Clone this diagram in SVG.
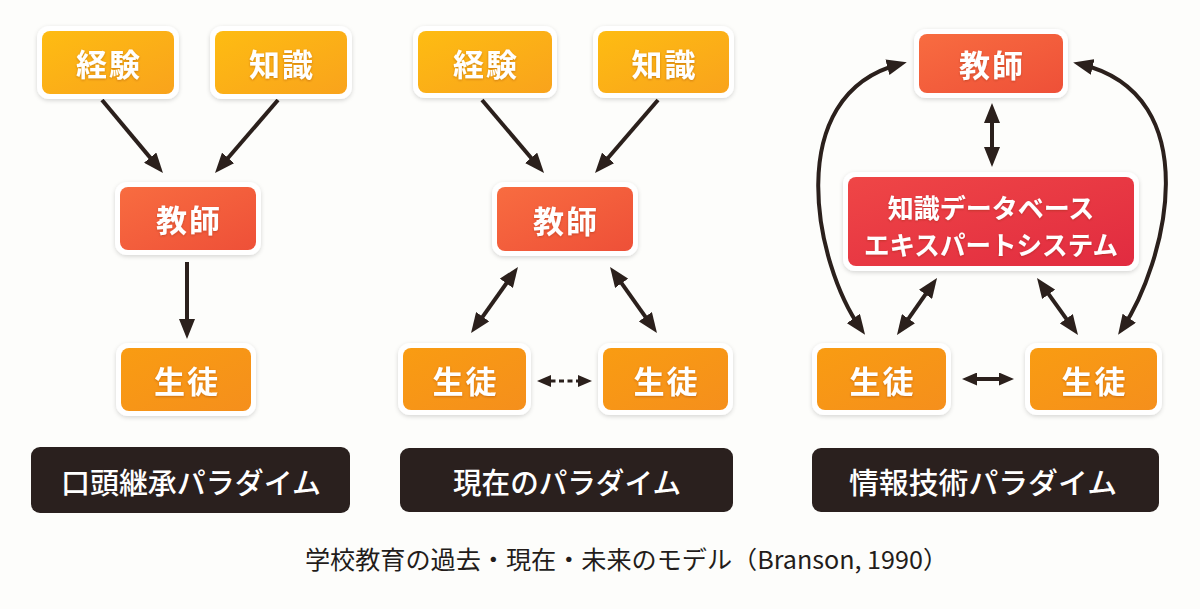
<svg xmlns="http://www.w3.org/2000/svg" width="1200" height="609" viewBox="0 0 1200 609">
<defs>
<linearGradient id="gY" x1="0" y1="0" x2="1" y2="1"><stop offset="0" stop-color="#FEBC12"/><stop offset="1" stop-color="#F9A31C"/></linearGradient>
<linearGradient id="gT" x1="0" y1="0" x2="1" y2="1"><stop offset="0" stop-color="#F86C40"/><stop offset="1" stop-color="#EE5038"/></linearGradient>
<linearGradient id="gS" x1="0" y1="0" x2="1" y2="1"><stop offset="0" stop-color="#F99C12"/><stop offset="1" stop-color="#F58F1C"/></linearGradient>
<linearGradient id="gK" x1="0" y1="0" x2="1" y2="1"><stop offset="0" stop-color="#EF4646"/><stop offset="1" stop-color="#E12B40"/></linearGradient>
<filter id="sh" x="-20%" y="-20%" width="140%" height="150%"><feDropShadow dx="0" dy="1.5" stdDeviation="2" flood-color="#000" flood-opacity="0.16"/></filter>
<filter id="ts" x="-10%" y="-20%" width="120%" height="150%"><feDropShadow dx="0" dy="1" stdDeviation="0.8" flood-color="#7a2a00" flood-opacity="0.35"/></filter>
<marker id="ah" markerUnits="userSpaceOnUse" markerWidth="20" markerHeight="16" viewBox="0 0 20 16" refX="13" refY="8" orient="auto-start-reverse"><path d="M0,0 L20,8 L0,16 z" fill="#2B201C"/></marker>
<marker id="ahm" markerUnits="userSpaceOnUse" markerWidth="15" markerHeight="13" viewBox="0 0 15 13" refX="9" refY="6.5" orient="auto-start-reverse"><path d="M0,0 L15,6.5 L0,13 z" fill="#2B201C"/></marker>
<marker id="ahs" markerUnits="userSpaceOnUse" markerWidth="14" markerHeight="12" viewBox="0 0 14 12" refX="9" refY="6" orient="auto-start-reverse"><path d="M0,0 L14,6 L0,12 z" fill="#2B201C"/></marker>
</defs>
<style>
.frame{fill:#FFFFFF;filter:url(#sh)}
.y{fill:url(#gY)}.t{fill:url(#gT)}.s{fill:url(#gS)}.k{fill:url(#gK)}
.nt{font-family:"Noto Sans CJK JP","Noto Sans",sans-serif;font-weight:700;font-size:31px;fill:#FFFFFF;text-anchor:middle;dominant-baseline:central;letter-spacing:2px;filter:url(#ts)}
.kt{font-family:"Noto Sans CJK JP","Noto Sans",sans-serif;font-weight:700;font-size:26px;fill:#FFFFFF;text-anchor:middle;dominant-baseline:central;filter:url(#ts)}
.lb{fill:#2A201E}
.lt{font-family:"Noto Sans CJK JP","Noto Sans",sans-serif;font-weight:500;font-size:29px;fill:#FFFFFF;text-anchor:middle;dominant-baseline:central}
.cap{font-family:"Noto Sans CJK JP","Noto Sans",sans-serif;font-weight:400;font-size:24.5px;fill:#231C1A;dominant-baseline:central}
.ar{fill:none;stroke:#2B201C;stroke-width:4}
.ar1{marker-end:url(#ah)}
.ar2{marker-start:url(#ah);marker-end:url(#ah)}
.arm{marker-start:url(#ahm);marker-end:url(#ahm)}
.dash{fill:none;stroke:#2B201C;stroke-width:3;stroke-dasharray:5 3.5;marker-start:url(#ahs);marker-end:url(#ahs)}
</style>
<rect width="1200" height="609" fill="#FDFDFB"/>

<g id="connectors">
<line class="ar ar1" x1="102" y1="100" x2="158.5" y2="167.6"/>
<line class="ar ar1" x1="278" y1="100" x2="219.6" y2="167.7"/>
<line class="ar ar1" x1="187" y1="262" x2="187" y2="332"/>
<line class="ar ar1" x1="482" y1="100" x2="539.5" y2="167.7"/>
<line class="ar ar1" x1="658" y1="100" x2="599.6" y2="167.7"/>
<line class="ar ar2" x1="513.9" y1="272.7" x2="475.1" y2="327.3"/>
<line class="ar ar2" x1="614.1" y1="272.7" x2="652.9" y2="327.3"/>
<line class="dash" x1="542" y1="381" x2="587" y2="381"/>
<line class="ar ar2" x1="992" y1="110" x2="992" y2="160"/>
<line class="ar arm" x1="968" y1="379" x2="1008" y2="379"/>
<line class="ar ar2" x1="933" y1="283.7" x2="901" y2="329.3"/>
<line class="ar ar2" x1="1041.1" y1="283.7" x2="1073.9" y2="329.3"/>
<path class="ar ar2" d="M900,64 C780,95 815,265 861,329"/>
<path class="ar ar2" d="M1080,64 C1210,95 1165,265 1122,329"/>
</g>

<g id="p1-keiken"><rect class="frame" x="37" y="26" width="142" height="73" rx="12"/><rect class="y" x="42" y="31" width="132" height="63" rx="8"/><text class="nt" x="109" y="62.5">経験</text></g>
<g id="p1-chishiki"><rect class="frame" x="210" y="26" width="142" height="73" rx="12"/><rect class="y" x="215" y="31" width="132" height="63" rx="8"/><text class="nt" x="282" y="62.5">知識</text></g>
<g id="p1-kyoushi"><rect class="frame" x="115" y="182" width="146" height="73" rx="12"/><rect class="t" x="120" y="187" width="136" height="63" rx="8"/><text class="nt" x="189" y="218.5">教師</text></g>
<g id="p1-seito"><rect class="frame" x="116" y="343" width="140" height="73" rx="12"/><rect class="s" x="121" y="348" width="130" height="63" rx="8"/><text class="nt" x="187" y="379.5">生徒</text></g>

<g id="p2-keiken"><rect class="frame" x="413" y="26" width="144" height="72" rx="12"/><rect class="y" x="418" y="31" width="134" height="62" rx="8"/><text class="nt" x="486" y="62">経験</text></g>
<g id="p2-chishiki"><rect class="frame" x="593" y="26" width="141" height="72" rx="12"/><rect class="y" x="598" y="31" width="131" height="62" rx="8"/><text class="nt" x="664.5" y="62">知識</text></g>
<g id="p2-kyoushi"><rect class="frame" x="492" y="182" width="146" height="74" rx="12"/><rect class="t" x="497" y="187" width="136" height="64" rx="8"/><text class="nt" x="566" y="219">教師</text></g>
<g id="p2-seito-l"><rect class="frame" x="398" y="343" width="133" height="72" rx="12"/><rect class="s" x="403" y="348" width="123" height="62" rx="8"/><text class="nt" x="465.5" y="379">生徒</text></g>
<g id="p2-seito-r"><rect class="frame" x="598" y="343" width="135" height="72" rx="12"/><rect class="s" x="603" y="348" width="125" height="62" rx="8"/><text class="nt" x="666.5" y="379">生徒</text></g>

<g id="p3-kyoushi"><rect class="frame" x="914" y="29" width="154" height="69" rx="12"/><rect class="t" x="919" y="34" width="144" height="59" rx="8"/><text class="nt" x="992" y="63.5">教師</text></g>
<g id="p3-kb"><rect class="frame" x="843" y="172" width="296" height="99" rx="12"/><rect class="k" x="848" y="177" width="286" height="89" rx="8"/><text class="kt" x="991" y="206">知識データベース</text><text class="kt" x="991" y="243" textLength="254" lengthAdjust="spacingAndGlyphs">エキスパートシステム</text></g>
<g id="p3-seito-l"><rect class="frame" x="812" y="343" width="139" height="72" rx="12"/><rect class="s" x="817" y="348" width="129" height="62" rx="8"/><text class="nt" x="882.5" y="379">生徒</text></g>
<g id="p3-seito-r"><rect class="frame" x="1025" y="343" width="137" height="72" rx="12"/><rect class="s" x="1030" y="348" width="127" height="62" rx="8"/><text class="nt" x="1094.5" y="379">生徒</text></g>

<g id="label-1"><rect class="lb" x="31" y="447" width="319" height="66" rx="9"/><text class="lt" x="191" y="481" textLength="260" lengthAdjust="spacingAndGlyphs">口頭継承パラダイム</text></g>
<g id="label-2"><rect class="lb" x="400" y="448" width="333" height="64" rx="9"/><text class="lt" x="567" y="481" textLength="228" lengthAdjust="spacingAndGlyphs">現在のパラダイム</text></g>
<g id="label-3"><rect class="lb" x="812" y="448" width="347" height="64" rx="9"/><text class="lt" x="983" y="481" textLength="268" lengthAdjust="spacingAndGlyphs">情報技術パラダイム</text></g>

<g id="caption"><text class="cap" x="305" y="558" textLength="643" lengthAdjust="spacingAndGlyphs">学校教育の過去・現在・未来のモデル（Branson, 1990）</text></g>
</svg>
